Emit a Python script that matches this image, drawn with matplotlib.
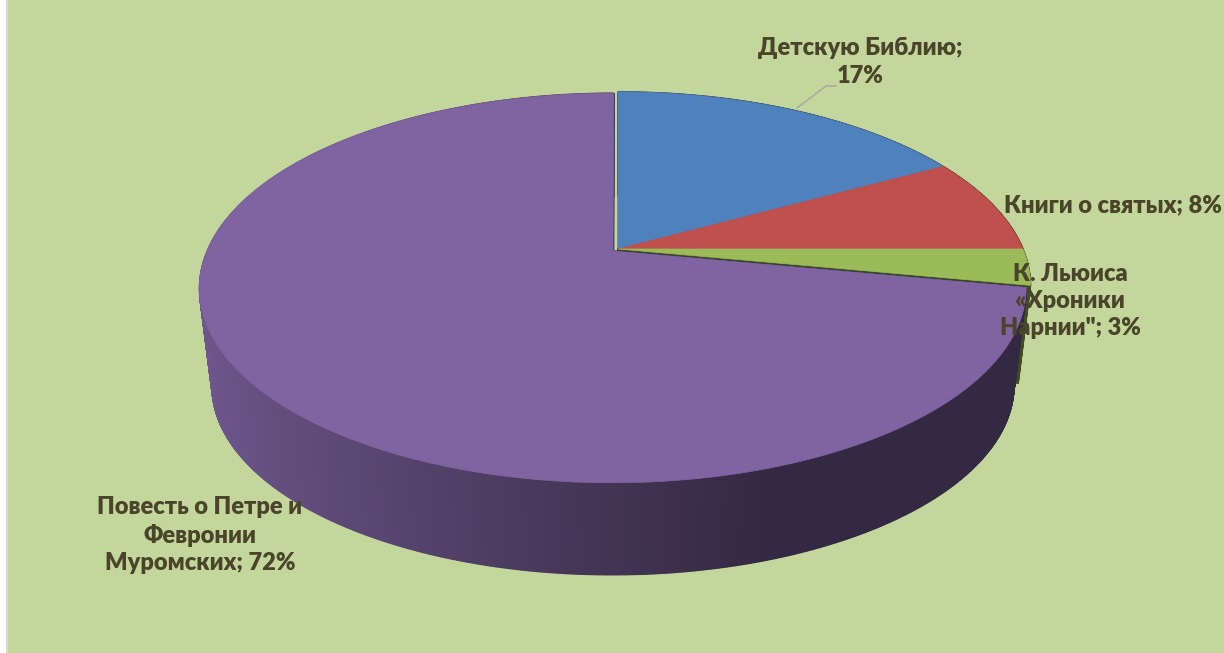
import numpy as np
import matplotlib.pyplot as plt
from matplotlib.patches import Polygon
from matplotlib.colors import to_rgb

# данные
names = ['Детскую Библию', 'Книги о святых', 'К. Льюиса\n«Хроники\nНарнии"', 'Повесть о Петре и\nФевронии\nМуромских']
values = [17, 8, 3, 72]
seps = ['\n', ' ', ' ', ' ']
colors = ['#4f81bd', '#c0504d', '#9bbb59', '#8064a2']
explode = [0, 0, 0, 0.016]

W, H = 1224, 653
bg = '#c3d69b'
txt_color = '#4a452a'

# геометрия псевдо-3D диска (в пикселях)
cx, cy = 618, 249
k = 0.19
A, B = 405, 187
s, dz = 0.97, 99


def proj(x, y, bottom=False):
    w = 1 + k * y
    if bottom:
        return cx + s * A * x / w, cy + dz - s * B * y / w
    return cx + A * x / w, cy - B * y / w


fig = plt.figure(figsize=(W / 100, H / 100), dpi=100)
fig.patch.set_facecolor(bg)
ax = fig.add_axes([0, 0, 1, 1])
ax.set_xlim(0, W)
ax.set_ylim(H, 0)
ax.axis('off')

fracs = np.array(values) / np.sum(values)
cum = np.concatenate([[0], np.cumsum(fracs)])
starts = 90 - 360 * cum[:-1]
ends = 90 - 360 * cum[1:]


def shade(c, f):
    r, g, b = to_rgb(c)
    return (r * f, g * f, b * f)


def shade_f(ang):
    return np.interp(np.cos(np.radians(ang)), [-1, 0.3, 1], [0.88, 0.41, 0.41])


walls = []
tops = []
for i in range(len(values)):
    a0, a1 = starts[i], ends[i]
    mid = np.radians((a0 + a1) / 2)
    ox, oy = explode[i] * np.cos(mid), explode[i] * np.sin(mid)
    n = max(int(abs(a0 - a1) * 3), 4)
    t = np.linspace(a1, a0, n + 1)
    xs = ox + np.cos(np.radians(t))
    ys = oy + np.sin(np.radians(t))
    # боковая стенка
    for j in range(n):
        p = [proj(xs[j], ys[j]), proj(xs[j + 1], ys[j + 1]),
             proj(xs[j + 1], ys[j + 1], True), proj(xs[j], ys[j], True)]
        m = (t[j] + t[j + 1]) / 2
        walls.append((np.sin(np.radians(m)), p, shade(colors[i], shade_f(m))))
    # радиальные грани
    for ang in (a0, a1):
        ex, ey = ox + np.cos(np.radians(ang)), oy + np.sin(np.radians(ang))
        p = [proj(ox, oy), proj(ex, ey), proj(ex, ey, True), proj(ox, oy, True)]
        walls.append((np.sin(np.radians(ang)) / 2, p, shade(colors[i], shade_f(ang) * 0.95)))
    top = [proj(ox, oy)] + [proj(xx, yy) for xx, yy in zip(xs, ys)]
    tops.append((i, top))

walls.sort(key=lambda w: -w[0])
for d, p, c in walls:
    ax.add_patch(Polygon(p, closed=True, facecolor=c, edgecolor=c, lw=1.0))

for i, top in sorted(tops, key=lambda q: explode[q[0]]):
    ax.add_patch(Polygon(top, closed=True, facecolor=colors[i], edgecolor=colors[i], lw=0.5))

# подписи
label_pos = [(860, 62), (1113, 205), (1070, 301), (200, 535)]
for i in range(len(values)):
    ax.text(label_pos[i][0], label_pos[i][1], f'{names[i]};{seps[i]}{values[i]}%',
            ha='center', va='center', fontsize=17, fontweight='heavy',
            color=txt_color, family=['Lato', 'DejaVu Sans'], linespacing=1.3)

ax.plot([797, 826, 836], [108, 86, 86], color='#a6a6a6', lw=1)

# рамка слева
ax.axvspan(0, 6, color='white')
ax.axvline(6.5, color='#d9d9d9', lw=1.5)

fig.savefig('out.png', dpi=100, facecolor=bg)
